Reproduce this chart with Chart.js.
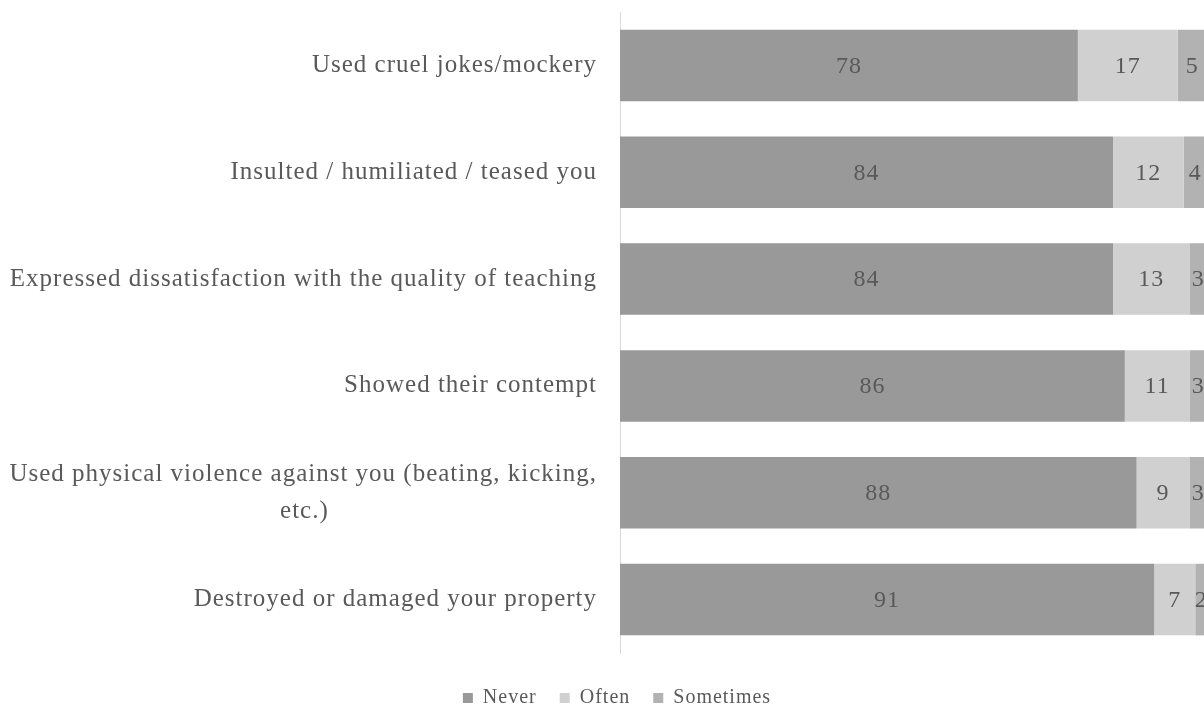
<!DOCTYPE html>
<html>
<head>
<meta charset="utf-8">
<script src="https://cdn.jsdelivr.net/npm/chart.js@4"></script>
<style>
  html, body { margin: 0; padding: 0; background: #fff; overflow: hidden; }
  #wrap { width: 1208px; height: 707px; }
</style>
</head>
<body>
<div id="wrap"><canvas id="bar-chart" width="1208" height="707"></canvas></div>
<script>
// -------- DATA -------- //
const items = [
  "Used cruel jokes/mockery",
  "Insulted / humiliated / teased you",
  "Expressed dissatisfaction with the quality of teaching",
  "Showed their contempt",
  ["Used physical violence against you (beating, kicking,", "etc.)"],
  "Destroyed or damaged your property"
];
const never = [78, 84, 84, 86, 88, 91];
const often = [17, 12, 13, 11, 9, 7];
const sometimes = [5, 4, 3, 3, 3, 2];

const serif = '"Liberation Serif", "Times New Roman", serif';
const spacing = '1px';

// pad shorter lines so a right-aligned multi-line label looks centred
function centerLines(label) {
  if (!Array.isArray(label)) return label;
  const ctx = document.createElement('canvas').getContext('2d');
  ctx.font = '25px ' + serif;
  ctx.letterSpacing = spacing;
  const sp = ctx.measureText('\u00a0').width;
  const widths = label.map(l => ctx.measureText(l).width);
  const max = Math.max(...widths);
  return label.map((l, i) => l + '\u00a0'.repeat(Math.round((max - widths[i]) / 2 / sp)));
}

// -------- TEXT SPACING + VALUE LABELS -------- //
const spaced = {
  id: 'spaced',
  beforeUpdate(chart) { chart.ctx.letterSpacing = spacing; },
  afterLayout(chart) { chart.scales.y.left = 0; },  // long labels may run past the padding
  beforeDraw(chart) { chart.ctx.letterSpacing = spacing; }
};

const barValues = {
  id: 'barValues',
  afterDatasetsDraw(chart) {
    const ctx = chart.ctx;
    ctx.save();
    ctx.font = '24px ' + serif;
    ctx.fillStyle = '#595959';
    ctx.textAlign = 'center';
    ctx.textBaseline = 'middle';
    chart.data.datasets.forEach((ds, i) => {
      chart.getDatasetMeta(i).data.forEach((bar, j) => {
        ctx.fillText(ds.data[j], (bar.x + bar.base) / 2, bar.y + 1);
      });
    });
    ctx.restore();
  }
};

// -------- CHART -------- //
const barCtx = document.getElementById('bar-chart');

new Chart(barCtx, {
  type: 'bar',
  data: {
    labels: items.map(centerLines),
    datasets: [
      { label: 'Never', data: never, backgroundColor: '#999999' },
      { label: 'Often', data: often, backgroundColor: '#d0d0d0' },
      { label: 'Sometimes', data: sometimes, backgroundColor: '#b2b2b2' }
    ]
  },
  options: {
    indexAxis: 'y',
    responsive: false,
    animation: { duration: 0 },
    layout: { padding: { top: 12, left: 27, right: 1, bottom: 0 } },
    datasets: {
      bar: { categoryPercentage: 1, barPercentage: 0.67, borderWidth: 0 }
    },
    scales: {
      x: {
        stacked: true,
        min: 0,
        max: 100,
        display: false
      },
      y: {
        stacked: true,
        grid: { display: false },
        border: { display: true, color: '#d9d9d9', width: 1 },
        ticks: {
          padding: 15,
          color: '#595959',
          font: { family: serif, size: 25, lineHeight: 1.5 }
        },
        afterFit(scale) {
          scale.width = 593;
          scale.paddingTop = 0;
          scale.paddingBottom = 0;
        }
      }
    },
    plugins: {
      legend: {
        position: 'bottom',
        maxHeight: 54,
        title: { display: true, text: ' ', font: { size: 1, lineHeight: 1 }, padding: { top: 11, bottom: 0 } },
        labels: {
          boxWidth: 10,
          boxHeight: 10,
          padding: 23,
          color: '#595959',
          font: { family: serif, size: 20 }
        }
      },
      tooltip: { enabled: false }
    }
  },
  plugins: [spaced, barValues]
});
</script>
</body>
</html>
